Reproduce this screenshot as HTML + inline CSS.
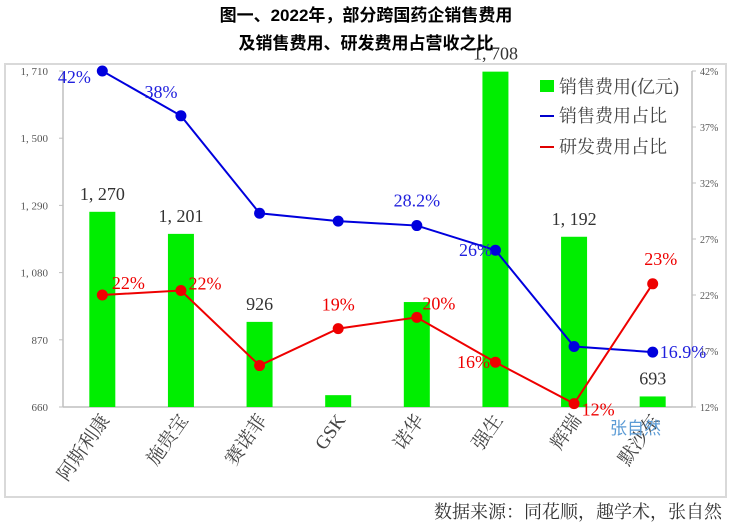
<!DOCTYPE html>
<html><head><meta charset="utf-8"><style>
body{margin:0;background:#fff;}
svg text{font-family:"Liberation Serif","Noto Serif CJK SC","Noto Sans CJK SC",serif;}
</style></head><body>
<svg width="732" height="526" viewBox="0 0 732 526">
<text x="366" y="21" text-anchor="middle" font-size="17" font-weight="bold" style="font-family:'Liberation Sans','Noto Sans CJK SC',sans-serif">图一、2022年，部分跨国药企销售费用</text>
<text x="366" y="49" text-anchor="middle" font-size="17" font-weight="bold" style="font-family:'Liberation Sans','Noto Sans CJK SC',sans-serif">及销售费用、研发费用占营收之比</text>
<rect x="5" y="64" width="721" height="433" fill="none" stroke="#d9d9d9" stroke-width="2"/>
<g id="plot"></g>
<g>
<rect x="540" y="80" width="14" height="12" fill="#00ee00"/>
<text x="559" y="93" font-size="18" fill="#444">销售费用(亿元)</text>
<line x1="540" y1="116" x2="554" y2="116" stroke="#0000cc" stroke-width="2"/>
<text x="559" y="122" font-size="18" fill="#444">销售费用占比</text>
<line x1="540" y1="147" x2="554" y2="147" stroke="#e00000" stroke-width="2"/>
<text x="559" y="153" font-size="18" fill="#444">研发费用占比</text>
</g>
<text x="610" y="434" font-size="17" fill="#5b9bd5" style="font-family:'Liberation Sans','Noto Sans CJK SC',sans-serif">张自然</text>
<text x="722" y="518" text-anchor="end" font-size="18" fill="#333">数据来源：同花顺，趣学术，张自然</text>
</svg>
<script>
const categories=["阿斯利康","施贵宝","赛诺菲","GSK","诺华","强生","辉瑞","默沙东"];
const sales=[1270,1201,926,697,988,1708,1192,693];
const salesLabels=["1, 270","1, 201","926","","","1, 708","1, 192","693"];
const salesRatio=[42,38,29.3,28.6,28.2,26,17.4,16.9];
const salesRatioLabels=["42%","38%","","","28.2%","26%","","16.9%"];
const rdRatio=[22,22.4,15.7,19,20,16,12.3,23];
const rdRatioLabels=["22%","22%","","19%","20%","16%","12%","23%"];
const leftTicks=[660,870,1080,1290,1500,1710];
const leftTickLabels=["660","870","1, 080","1, 290","1, 500","1, 710"];
const rightTicks=[12,17,22,27,32,37,42];

const X0=63,X1=692,Y0=407,Y1=71;
const band=(X1-X0)/categories.length;
const xc=i=>X0+band*(i+0.5);
const yL=v=>Y0-(v-660)/(1710-660)*(Y0-Y1);
const yR=v=>Y0-(v-12)/(42-12)*(Y0-Y1);
const NS="http://www.w3.org/2000/svg";
const g=document.getElementById('plot');
function mk(t,a,txt){const e=document.createElementNS(NS,t);for(const k in a)e.setAttribute(k,a[k]);if(txt!==undefined)e.textContent=txt;g.appendChild(e);return e;}

let e;
e=mk('line',{x1:X0,y1:Y1,x2:X0,y2:Y0,stroke:'#bfbfbf','stroke-width':1.5});


e=mk('line',{x1:X1,y1:Y1,x2:X1,y2:Y0,stroke:'#bfbfbf','stroke-width':1.5});


e=mk('line',{x1:X0,y1:Y0,x2:X1,y2:Y0,stroke:'#bfbfbf','stroke-width':1.5});


leftTicks.forEach((v,i)=>{
 e=mk('line',{x1:X0-4,y1:yL(v),x2:X0,y2:yL(v),stroke:'#bfbfbf'});
 
 
 e=mk('text',{x:48,y:yL(v)+4,'text-anchor':'end','font-size':11,fill:'#555'},leftTickLabels[i]);
 
 
});
rightTicks.forEach(v=>{
 e=mk('line',{x1:X1,y1:yR(v),x2:X1+4,y2:yR(v),stroke:'#bfbfbf'});
 
 
 e=mk('text',{x:700,y:yR(v)+4,'font-size':10,fill:'#555'},v+'%');
 
 
});
sales.forEach((v,i)=>{
 e=mk('rect',{x:xc(i)-13,y:yL(v),width:26,height:Y0-yL(v),fill:'#00ee00'});
 
 
 if(salesLabels[i]){
 e=mk('text',{x:xc(i),y:yL(v)-12,'text-anchor':'middle','font-size':18,fill:'#333'},salesLabels[i]);
 
 }
 e=mk('text',{x:xc(i)+8,y:420,'text-anchor':'end','font-size':19,fill:'#444',transform:`rotate(-55 ${xc(i)+8} 420)`},categories[i]);
 
 
});
function series(vals,color,name){
 e=mk('polyline',{points:vals.map((v,i)=>xc(i)+','+yR(v)).join(' '),fill:'none',stroke:color,'stroke-width':2});
 
 
 vals.forEach((v,i)=>{
  e=mk('circle',{cx:xc(i),cy:yR(v),r:5.5,fill:color});
  
  
 });
}
series(salesRatio,'#0000dd','sales-ratio');
series(rdRatio,'#ee0000','rd-ratio');
const sOff=[[-28,12],[-20,-18],[0,0],[0,0],[0,-19],[-20,6],[0,0],[7,6]];
salesRatio.forEach((v,i)=>{if(!salesRatioLabels[i])return;
 const anc=i==7?'start':'middle';
 e=mk('text',{x:xc(i)+sOff[i][0],y:yR(v)+sOff[i][1],'text-anchor':anc,'font-size':18,fill:'#2020dd'},salesRatioLabels[i]);
 
 
});
const rOff=[[26,-6],[24,-1],[0,0],[0,-18],[22,-8],[-22,6],[24,12],[8,-19]];
rdRatio.forEach((v,i)=>{if(!rdRatioLabels[i])return;
 e=mk('text',{x:xc(i)+rOff[i][0],y:yR(v)+rOff[i][1],'text-anchor':'middle','font-size':18,fill:'#ee0000'},rdRatioLabels[i]);
 
 
});
</script>
</body></html>
